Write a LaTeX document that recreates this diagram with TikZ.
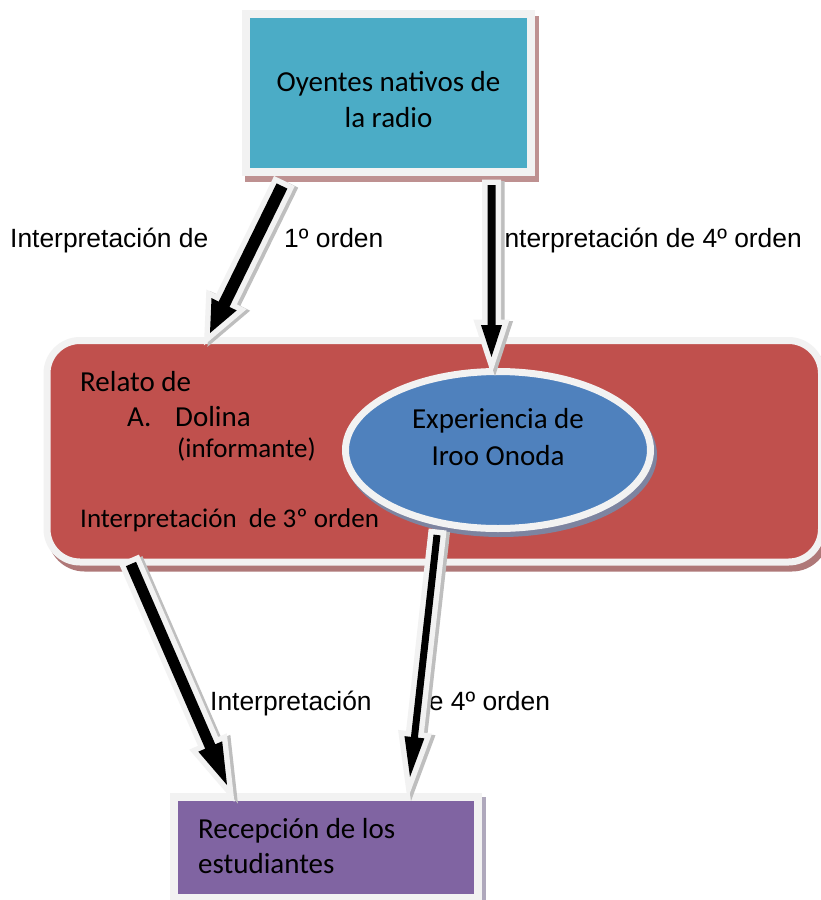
\documentclass[tikz,border=0pt]{standalone}
\usepackage{fontspec}
\setmainfont{Carlito}
\newfontfamily\arialf{Liberation Sans}
\usetikzlibrary{calc,shapes.geometric}
\definecolor{teal1}{RGB}{75,172,198}
\definecolor{red1}{RGB}{192,80,77}
\definecolor{blue1}{RGB}{79,129,189}
\definecolor{purple1}{RGB}{128,100,162}
\definecolor{glow}{RGB}{242,242,242}
\definecolor{shred}{RGB}{190,145,145}
\definecolor{shredbox}{RGB}{175,120,120}
\definecolor{shblue}{RGB}{125,132,160}
\definecolor{shpurple}{RGB}{175,168,188}
\definecolor{shgray}{RGB}{190,190,190}
\tikzset{
  shapebox/.style={draw=glow, inner sep=0pt, outer sep=0pt},
  boxtxt/.style={inner sep=0pt, font=\fontsize{29}{35}\selectfont, text=black},
  smalltxt/.style={inner sep=0pt, font=\fontsize{27}{33}\selectfont, text=black},
  lbltxt/.style={inner sep=0pt, font=\arialf\fontsize{26.4}{32}\selectfont, text=black},
  arrshadow/.style={fill=shgray, draw=shgray, line width=11pt, line join=miter},
  arrglow/.style={fill=glow, draw=glow, line width=11pt, line join=miter},
  arrcore/.style={fill=black}
}
\newcommand\blkarrow[5]{%
  \coordinate (bkH) at ($(#2)!#5!(#1)$);
  \coordinate (bk1) at ($(#1)!#3!90:(#2)$);
  \coordinate (bk2) at ($(bkH)!#3!90:(#2)$);
  \coordinate (bk3) at ($(bkH)!#4!90:(#2)$);
  \coordinate (bk4) at ($(bkH)!#4!-90:(#2)$);
  \coordinate (bk5) at ($(bkH)!#3!-90:(#2)$);
  \coordinate (bk6) at ($(#1)!#3!-90:(#2)$);
  \begin{scope}[transform canvas={shift={(3.5pt,-1.5pt)}}]
    \filldraw[arrshadow] (bk1) -- (bk2) -- (bk3) -- (#2) -- (bk4) -- (bk5) -- (bk6) -- cycle;
  \end{scope}
  \filldraw[arrglow] (bk1) -- (bk2) -- (bk3) -- (#2) -- (bk4) -- (bk5) -- (bk6) -- cycle;
  \fill[arrcore] (bk1) -- (bk2) -- (bk3) -- (#2) -- (bk4) -- (bk5) -- (bk6) -- cycle;
}
\begin{document}
\begin{tikzpicture}[x=1pt,y=-1pt]
\useasboundingbox[fill=white] (0,0) rectangle (821,900);

% shadows of shapes
\fill[shred] (245,16) rectangle (538.5,181.5);
\fill[shredbox, rounded corners=37pt] (47.5,343) rectangle (829,571.5);
\fill[shpurple] (174,797) rectangle (486,904);

% red box
\node[shapebox, fill=red1, line width=7pt, rounded corners=33pt,
      minimum width=774.5pt, minimum height=221.5pt] (relato) at (434.25,451.25) {};
\fill[shblue] (501,455) ellipse [x radius=156, y radius=82];
\node[shapebox, ellipse, fill=blue1, line width=7pt,
      minimum width=305pt, minimum height=157pt] (exp) at (498,450) {};

% top box
\node[shapebox, fill=teal1, line width=8pt,
      minimum width=285pt, minimum height=157.5pt] (oyentes) at (388.75,92.75) {};
% bottom box
\node[shapebox, fill=purple1, line width=8pt,
      minimum width=304pt, minimum height=101pt] (recep) at (326,847.5) {};

% texts in shapes
\node[boxtxt, anchor=base] (t1) at (388.5,91) {Oyentes nativos de};
\node[boxtxt, anchor=base] (t2) at (388.5,127) {la radio};
\node[boxtxt, anchor=base west] (r1) at (80,391) {Relato de};
\node[boxtxt, anchor=base west] (r2) at (127,426) {A.};
\node[boxtxt, anchor=base west] (r3) at (175,426) {Dolina};
\node[smalltxt, anchor=base west] (r4) at (177,457) {(informante)};
\node[smalltxt, anchor=base west] (r5) at (80,527) {Interpretación\ \ de 3º orden};
\node[boxtxt, anchor=base] (e1) at (498,428) {Experiencia de};
\node[boxtxt, anchor=base] (e2) at (498,465) {Iroo Onoda};
\node[boxtxt, anchor=base west] (b1) at (198,838) {Recepción de los};
\node[boxtxt, anchor=base west] (b2) at (198,873) {estudiantes};

% labels
\node[lbltxt, anchor=base west] (l1) at (10,247) {Interpretación de};
\node[lbltxt, anchor=base west] (l2) at (284,247) {1º orden};
\node[lbltxt, anchor=base west] (l3) at (497,247) {Interpretación de 4º orden};
\node[lbltxt, anchor=base west] (l4) at (210,710) {Interpretación};
\node[lbltxt, anchor=base west] (l5) at (414,710) {de 4º orden};

% connector end points
\coordinate (a1s) at (282,186);
\coordinate (a1e) at (210,333);
\coordinate (a2s) at (491.5,185);
\coordinate (a2e) at (491.5,357);
\coordinate (a3s) at (131,564);
\coordinate (a3e) at (227,785);
\coordinate (a4s) at (437,535);
\coordinate (a4e) at (410,777);

\blkarrow{a1s}{a1e}{6pt}{14pt}{32pt}
\blkarrow{a2s}{a2e}{4pt}{10.5pt}{32pt}
\blkarrow{a3s}{a3e}{5.5pt}{13pt}{42pt}
\blkarrow{a4s}{a4e}{3.5pt}{10pt}{40pt}
\end{tikzpicture}
\end{document}
